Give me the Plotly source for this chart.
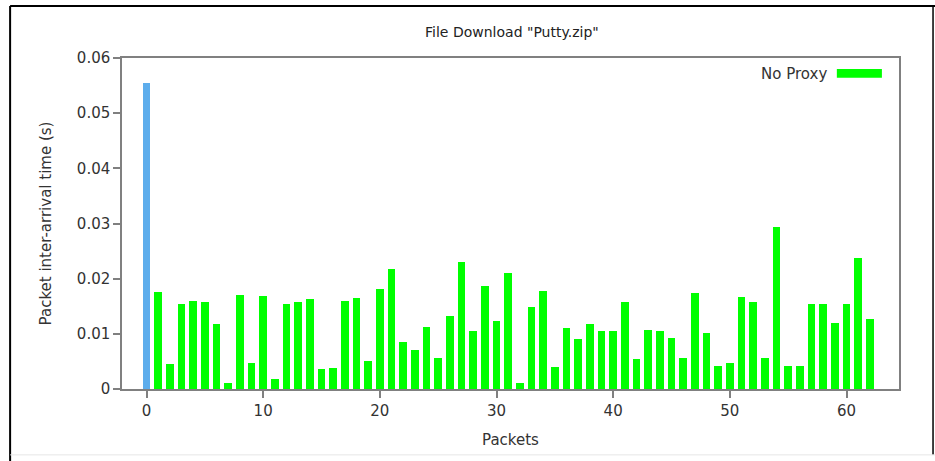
import plotly.graph_objects as go

packets = list(range(63))
inter_arrival = [
    0.0555, 0.0175, 0.0045, 0.0154, 0.0159, 0.0158, 0.0117, 0.0011, 0.0171, 0.0048,
    0.0168, 0.0018, 0.0154, 0.0158, 0.0164, 0.0036, 0.0038, 0.0159, 0.0165, 0.0050,
    0.0182, 0.0218, 0.0086, 0.0070, 0.0112, 0.0057, 0.0133, 0.0231, 0.0106, 0.0187,
    0.0124, 0.0210, 0.0011, 0.0148, 0.0177, 0.0039, 0.0110, 0.0090, 0.0118, 0.0106,
    0.0106, 0.0158, 0.0054, 0.0107, 0.0106, 0.0093, 0.0057, 0.0174, 0.0102, 0.0042,
    0.0048, 0.0166, 0.0158, 0.0057, 0.0294, 0.0041, 0.0042, 0.0154, 0.0154, 0.0119,
    0.0154, 0.0237, 0.0127,
]
first_color = "#5DADEC"
rest_color = "#00FF00"
bar_colors = [first_color] + [rest_color] * (len(packets) - 1)

x_ticks = [0, 10, 20, 30, 40, 50, 60]
y_ticks = [0, 0.01, 0.02, 0.03, 0.04, 0.05, 0.06]
y_tick_text = ["0", "0.01", "0.02", "0.03", "0.04", "0.05", "0.06"]
legend_label = "No Proxy"

FONT = "DejaVu Sans"
fig = go.Figure()
fig.add_trace(go.Bar(x=packets, y=inter_arrival, marker=dict(color=bar_colors, line=dict(width=0)),
                     width=0.63, name=legend_label, showlegend=False))

axis_common = dict(showline=True, linecolor="#808080", linewidth=1.5, mirror=True,
                   ticks="outside", ticklen=7, tickcolor="#808080", tickwidth=1.5,
                   showgrid=False, zeroline=False,
                   tickfont=dict(family=FONT, size=15, color="#333333"))

fig.update_layout(
    width=935, height=461,
    margin=dict(l=122, r=36, t=58, b=72),
    paper_bgcolor="white", plot_bgcolor="white",
    title=dict(text='File Download "Putty.zip"', x=0.5475, xanchor="center", y=0.93, yanchor="middle",
               font=dict(family=FONT, size=14, color="#222222")),
    xaxis=dict(range=[-2.1, 64.5], tickvals=x_ticks,
               title=dict(text="Packets", standoff=16, font=dict(family=FONT, size=15, color="#333333")),
               **axis_common),
    yaxis=dict(range=[0, 0.06], tickvals=y_ticks, ticktext=y_tick_text,
               title=dict(text="Packet inter-arrival time (s)", standoff=22,
                          font=dict(family=FONT, size=15, color="#333333")),
               **axis_common),
    bargap=0,
    showlegend=False,
)

# legend (text then swatch, as in the reference)
fig.add_annotation(xref="paper", yref="paper", x=0.910, y=0.953, text=legend_label, showarrow=False,
                   xanchor="right", yanchor="middle",
                   font=dict(family=FONT, size=15, color="#333333"))
fig.add_shape(type="rect", xref="paper", yref="paper", x0=0.920, x1=0.978, y0=0.940, y1=0.967,
              fillcolor=rest_color, line=dict(width=0))

# outer frame of the picture
fig.add_shape(type="line", xref="paper", yref="paper", x0=-0.144, x1=1.06, y0=1.157, y1=1.157,
              line=dict(color="black", width=2))
fig.add_shape(type="line", xref="paper", yref="paper", x0=-0.144, x1=-0.144, y0=1.157, y1=-0.25,
              line=dict(color="black", width=2))
fig.add_shape(type="line", xref="paper", yref="paper", x0=1.0438, x1=1.0438, y0=1.157, y1=-0.199,
              line=dict(color="black", width=1.5))
fig.add_shape(type="line", xref="paper", yref="paper", x0=-0.144, x1=1.06, y0=-0.199, y1=-0.199,
              line=dict(color="#e6e6e6", width=1))

fig.write_html("out.html")
